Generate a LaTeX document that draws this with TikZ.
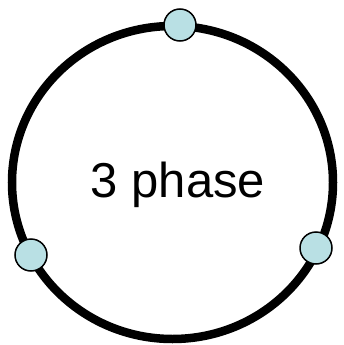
\documentclass[tikz,border=0pt]{standalone}
\usepackage{fontspec}
\setmainfont{Liberation Sans}
\definecolor{dotfill}{RGB}{185,224,228}
\begin{document}
\begin{tikzpicture}[x=1pt,y=-1pt,
  ringline/.style={draw=black,line width=8.5pt},
  dot/.style={circle,draw=black,line width=1.5pt,fill=dotfill,minimum size=32pt,inner sep=0pt}]
\useasboundingbox (0,0) rectangle (344,345);
\coordinate (ring) at (172.5,182.5);
\draw[ringline] (ring) ellipse [x radius=160.5pt, y radius=156.5pt];
\node[dot] (top) at (180,25) {};
\node[dot] (left) at (31,255) {};
\node[dot] (right) at (316,248) {};
\node[anchor=base,inner sep=0pt,font=\fontsize{49}{58}\selectfont] (label) at (178,197) {3 phase};
\end{tikzpicture}
\end{document}
